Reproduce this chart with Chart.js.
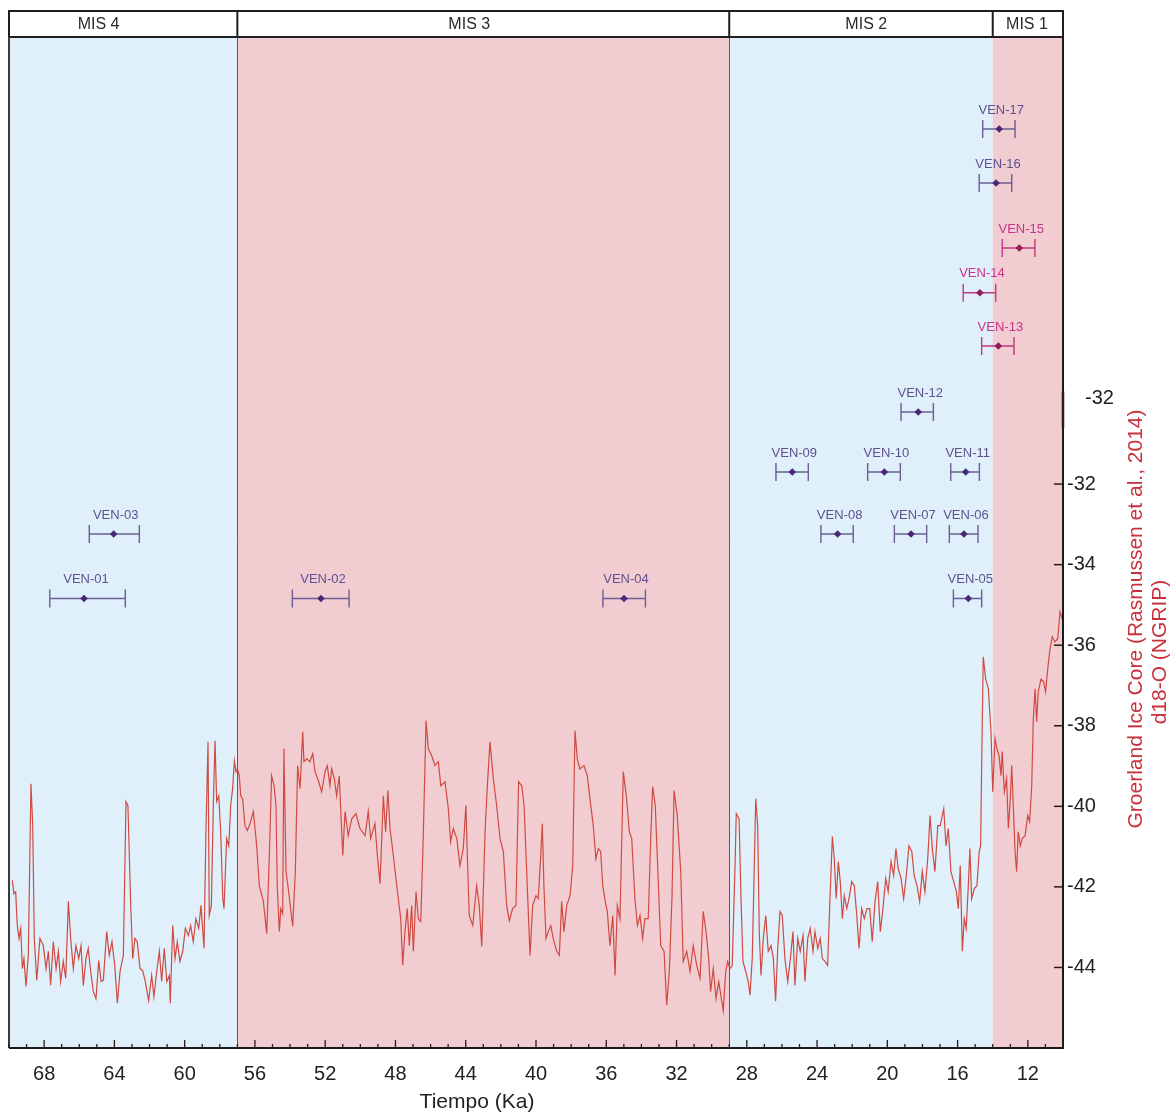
<!DOCTYPE html>
<html lang="es">
<head>
<meta charset="utf-8">
<title>NGRIP d18-O y edades VEN</title>
<script src="https://cdn.jsdelivr.net/npm/chart.js@4.4.1/dist/chart.umd.min.js"></script>
<style>
  html, body { margin: 0; padding: 0; background: #fff; }
  #contenedor { width: 1174px; height: 1113px; }
</style>
</head>
<body>
<div id="contenedor"><canvas id="grafico"></canvas></div>
<script>
// Registro NGRIP (Rasmussen et al., 2014): edad en ka y d18-O
const tiempoKa = [
  69.81, 69.72, 69.62, 69.53, 69.43, 69.33, 69.24, 69.15, 69.03, 68.90,
  68.75, 68.65, 68.56, 68.42, 68.24, 68.05, 67.89, 67.76, 67.63, 67.48,
  67.32, 67.19, 67.06, 66.91, 66.77, 66.62, 66.49, 66.34, 66.19, 66.03,
  65.90, 65.77, 65.62, 65.49, 65.35, 65.20, 65.05, 64.89, 64.76, 64.63,
  64.44, 64.29, 64.14, 63.98, 63.83, 63.68, 63.49, 63.34, 63.23, 63.07,
  62.96, 62.83, 62.70, 62.54, 62.39, 62.24, 62.05, 61.88, 61.75, 61.59,
  61.44, 61.31, 61.16, 61.02, 60.87, 60.82, 60.68, 60.55, 60.42, 60.27,
  60.11, 59.96, 59.79, 59.66, 59.51, 59.36, 59.20, 59.07, 58.90, 58.79,
  58.67, 58.60, 58.48, 58.37, 58.27, 58.18, 58.06, 57.95, 57.83, 57.76,
  57.61, 57.49, 57.38, 57.27, 57.17, 57.08, 57.00, 56.89, 56.81, 56.70,
  56.57, 56.43, 56.28, 56.09, 55.90, 55.75, 55.52, 55.33, 55.18, 55.05,
  54.91, 54.80, 54.73, 54.61, 54.53, 54.42, 54.35, 54.23, 54.08, 53.85,
  53.70, 53.57, 53.43, 53.28, 53.21, 53.05, 52.87, 52.71, 52.58, 52.39,
  52.20, 52.01, 51.88, 51.73, 51.63, 51.48, 51.35, 51.20, 51.00, 50.87,
  50.69, 50.49, 50.25, 50.02, 49.73, 49.55, 49.41, 49.17, 49.03, 48.88,
  48.69, 48.56, 48.43, 48.31, 48.12, 47.93, 47.70, 47.59, 47.46, 47.33,
  47.21, 47.08, 46.98, 46.83, 46.70, 46.56, 46.42, 46.26, 46.13, 45.94,
  45.75, 45.56, 45.42, 45.18, 44.99, 44.86, 44.71, 44.51, 44.33, 44.14,
  43.99, 43.91, 43.80, 43.60, 43.38, 43.23, 43.09, 42.90, 42.77, 42.62,
  42.43, 42.24, 42.05, 41.86, 41.67, 41.52, 41.33, 41.14, 40.99, 40.81,
  40.68, 40.53, 40.34, 40.19, 40.00, 39.87, 39.73, 39.64, 39.55, 39.43,
  39.30, 39.16, 39.02, 38.82, 38.67, 38.54, 38.41, 38.25, 38.06, 37.91,
  37.78, 37.65, 37.50, 37.27, 37.08, 36.93, 36.74, 36.59, 36.45, 36.32,
  36.20, 36.06, 35.94, 35.79, 35.63, 35.50, 35.37, 35.22, 35.03, 34.84,
  34.69, 34.55, 34.37, 34.23, 34.08, 33.93, 33.80, 33.61, 33.47, 33.36,
  33.21, 33.04, 32.90, 32.71, 32.56, 32.41, 32.26, 32.14, 31.96, 31.76,
  31.62, 31.42, 31.23, 31.05, 30.85, 30.66, 30.48, 30.32, 30.17, 30.06,
  29.91, 29.75, 29.60, 29.45, 29.34, 29.20, 29.09, 28.96, 28.83, 28.67,
  28.60, 28.44, 28.33, 28.22, 28.06, 27.92, 27.82, 27.69, 27.49, 27.38,
  27.29, 27.19, 27.06, 26.92, 26.78, 26.62, 26.49, 26.36, 26.24, 26.11,
  25.98, 25.83, 25.67, 25.52, 25.37, 25.26, 25.10, 24.96, 24.80, 24.69,
  24.53, 24.39, 24.23, 24.12, 23.96, 23.82, 23.70, 23.55, 23.40, 23.28,
  23.13, 23.02, 22.91, 22.79, 22.68, 22.56, 22.45, 22.31, 22.18, 22.03,
  21.88, 21.74, 21.61, 21.46, 21.31, 21.16, 21.00, 20.86, 20.70, 20.55,
  20.40, 20.25, 20.09, 19.95, 19.79, 19.64, 19.51, 19.38, 19.22, 19.07,
  18.92, 18.77, 18.61, 18.47, 18.31, 18.16, 18.01, 17.86, 17.70, 17.57,
  17.44, 17.29, 17.13, 16.99, 16.79, 16.66, 16.53, 16.38, 16.22, 16.07,
  15.96, 15.85, 15.73, 15.62, 15.51, 15.39, 15.30, 15.20, 15.05, 14.90,
  14.77, 14.69, 14.63, 14.54, 14.40, 14.25, 14.10, 14.00, 13.87, 13.76,
  13.64, 13.53, 13.46, 13.34, 13.21, 13.11, 13.00, 12.92, 12.83, 12.73,
  12.64, 12.55, 12.43, 12.32, 12.16, 12.01, 11.90, 11.78, 11.69, 11.59,
  11.50, 11.41, 11.25, 11.10, 10.99, 10.87, 10.74, 10.61, 10.46, 10.30,
  10.17, 10.04
];
const d18O = [
  -41.84, -42.17, -42.12, -42.95, -43.28, -43.03, -44.03, -43.78, -44.47, -43.70,
  -39.44, -40.47, -43.28, -44.32, -43.28, -43.45, -44.03, -43.60, -44.44, -43.36,
  -44.03, -43.60, -44.35, -43.85, -44.27, -42.36, -43.28, -44.03, -43.46, -43.78,
  -43.46, -44.45, -43.78, -43.53, -44.10, -44.60, -44.77, -43.83, -44.35, -44.32,
  -43.11, -43.70, -43.36, -43.95, -44.89, -44.10, -43.70, -39.88, -39.98, -42.46,
  -43.78, -43.28, -43.36, -44.03, -44.08, -44.35, -44.82, -44.20, -44.72, -44.10,
  -43.60, -44.35, -43.53, -44.35, -44.20, -44.89, -42.96, -43.78, -43.36, -43.85,
  -43.60, -43.03, -43.21, -42.96, -43.36, -42.79, -43.03, -42.46, -43.53, -40.63,
  -38.40, -42.71, -42.46, -39.98, -38.37, -39.88, -39.74, -40.63, -42.29, -42.54,
  -40.80, -40.98, -39.98, -39.56, -38.87, -39.14, -39.07, -39.24, -39.74, -39.81,
  -40.48, -40.60, -40.43, -40.13, -40.98, -41.97, -42.36, -43.16, -41.22, -39.24,
  -39.49, -39.98, -41.97, -43.11, -42.54, -42.66, -38.57, -41.62, -42.12, -42.98,
  -41.62, -38.99, -39.56, -38.15, -38.89, -38.82, -38.89, -38.69, -39.14, -39.36,
  -39.64, -39.14, -38.99, -39.49, -39.07, -39.31, -39.74, -39.24, -41.22, -40.13,
  -40.73, -40.31, -40.18, -40.55, -40.73, -40.13, -40.80, -40.43, -41.22, -41.92,
  -39.74, -40.63, -39.61, -40.55, -41.22, -41.96, -42.79, -43.94, -43.11, -42.54,
  -43.46, -42.46, -43.60, -42.12, -42.79, -42.86, -40.80, -37.87, -38.57, -38.74,
  -38.99, -38.89, -39.49, -39.39, -40.06, -40.88, -40.55, -40.80, -41.47, -41.05,
  -39.98, -41.22, -42.71, -42.96, -41.97, -42.46, -43.48, -40.63, -39.49, -38.40,
  -39.31, -39.98, -40.80, -41.12, -42.46, -42.84, -42.54, -42.46, -39.39, -39.49,
  -39.98, -41.62, -43.70, -42.46, -42.22, -42.29, -41.22, -40.43, -41.97, -43.28,
  -43.11, -42.96, -43.28, -43.60, -43.70, -42.36, -43.11, -42.46, -42.22, -41.47,
  -38.12, -38.82, -39.07, -38.99, -39.24, -39.81, -40.48, -41.30, -41.05, -41.12,
  -41.97, -42.36, -42.61, -43.46, -42.71, -44.20, -42.46, -42.79, -39.14, -39.81,
  -40.63, -40.80, -42.29, -42.96, -42.71, -43.28, -42.79, -42.79, -40.80, -39.51,
  -39.98, -41.87, -43.46, -43.60, -44.94, -44.10, -42.29, -39.61, -40.23, -41.62,
  -43.85, -43.60, -44.10, -43.46, -43.95, -44.27, -42.61, -43.11, -43.78, -44.60,
  -44.03, -44.77, -44.35, -44.77, -45.07, -44.10, -43.85, -44.03, -43.95, -41.47,
  -40.18, -40.31, -42.29, -43.85, -44.10, -44.35, -44.69, -43.78, -39.81, -40.48,
  -43.11, -44.20, -43.28, -42.71, -43.60, -43.46, -43.78, -44.84, -43.53, -42.61,
  -42.71, -43.78, -44.35, -43.78, -43.11, -44.45, -43.28, -43.60, -43.21, -44.35,
  -43.28, -43.03, -43.60, -43.11, -43.53, -43.28, -43.78, -43.85, -43.95, -42.46,
  -40.75, -41.30, -42.29, -41.37, -41.87, -42.79, -42.22, -42.54, -42.29, -41.87,
  -41.97, -42.71, -43.53, -42.54, -42.79, -42.54, -42.54, -43.36, -42.36, -41.87,
  -43.11, -42.54, -41.79, -42.12, -41.37, -41.72, -41.05, -41.55, -41.79, -42.29,
  -41.72, -40.98, -41.12, -41.72, -41.97, -42.36, -41.62, -42.12, -41.30, -40.23,
  -41.05, -41.62, -40.48, -40.48, -40.06, -40.98, -40.55, -41.62, -41.87, -42.12,
  -42.54, -41.47, -43.60, -42.79, -43.03, -41.97, -41.05, -42.29, -42.04, -41.97,
  -41.12, -40.98, -38.99, -36.29, -36.84, -37.08, -38.15, -39.64, -38.32, -38.57,
  -38.74, -39.24, -38.64, -39.64, -39.31, -40.55, -39.81, -38.99, -39.98, -41.12,
  -41.62, -40.63, -40.98, -40.80, -40.73, -40.23, -40.38, -39.49, -37.83, -37.08,
  -37.90, -37.16, -36.84, -36.91, -37.16, -36.59, -36.09, -35.79, -35.92, -35.84,
  -35.17, -35.35
];

// Ejes
const tiempoTicks = [68, 64, 60, 56, 52, 48, 44, 40, 36, 32, 28, 24, 20, 16, 12];
const d18OTicks = [-32, -34, -36, -38, -40, -42, -44];

// Estadios isotópicos marinos
const misNombres = ['MIS 4', 'MIS 3', 'MIS 2', 'MIS 1'];
const misNumero = [4, 3, 2, 1];
const misLimites = [70, 57, 29, 14, 10];
const misEtiquetaKa = [64.9, 43.8, 21.2, 12.05];

// Edades VEN (ka) con su intervalo y la fila donde se dibujan
const venNombres = ['VEN-01', 'VEN-02', 'VEN-03', 'VEN-04', 'VEN-05', 'VEN-06', 'VEN-07', 'VEN-08', 'VEN-09',
  'VEN-10', 'VEN-11', 'VEN-12', 'VEN-13', 'VEN-14', 'VEN-15', 'VEN-16', 'VEN-17'];
const venEdad = [65.73, 52.24, 64.04, 34.99, 15.39, 15.64, 18.65, 22.83, 25.41,
  20.17, 15.54, 18.24, 13.68, 14.73, 12.49, 13.81, 13.63];
const venEdadMax = [67.68, 53.87, 65.43, 36.19, 16.24, 16.47, 19.60, 23.78, 26.34,
  21.12, 16.39, 19.22, 14.63, 15.68, 13.46, 14.77, 14.57];
const venEdadMin = [63.38, 50.64, 62.58, 33.77, 14.63, 14.84, 17.76, 21.94, 24.50,
  19.26, 14.76, 17.38, 12.79, 13.83, 11.60, 12.92, 12.73];
const venFila = [44.46, 44.46, 50.84, 44.46, 44.46, 50.84, 50.84, 50.84, 56.97,
  56.97, 56.97, 62.91, 69.44, 74.71, 79.13, 85.56, 90.90];

const familia = '"Liberation Sans", Arial, sans-serif';
const azulFrio = '#e0f0fb';
const rosaCalido = '#f1cdd2';
const venRosas = ['VEN-13', 'VEN-14', 'VEN-15']; // se dibujan en magenta

function esRosa(i) {
  return venRosas.includes(venNombres[i]);
}

const pluginMIS = {
  id: 'pluginMIS',
  beforeDatasetsDraw(chart) {
    const { ctx, chartArea: a, scales: { x } } = chart;
    ctx.save();
    misNombres.forEach((n, i) => {
      const x0 = x.getPixelForValue(misLimites[i]);
      const x1 = x.getPixelForValue(misLimites[i + 1]);
      ctx.fillStyle = misNumero[i] % 2 === 0 ? azulFrio : rosaCalido;
      ctx.fillRect(x0, a.top, x1 - x0, a.bottom - a.top);
    });
    // lineas finas entre MIS 4/3 y MIS 3/2
    ctx.strokeStyle = '#5a5a5a';
    ctx.lineWidth = 1;
    misLimites.slice(1, 3).forEach(v => {
      const px = Math.round(x.getPixelForValue(v)) + 0.5;
      ctx.beginPath();
      ctx.moveTo(px, a.top);
      ctx.lineTo(px, a.bottom);
      ctx.stroke();
    });
    ctx.restore();
  },
  beforeDatasetDraw(chart, args) {
    if (args.index !== 1) return;
    // barras de error de las edades VEN
    const { ctx, scales: { x, yFila } } = chart;
    ctx.save();
    ctx.lineWidth = 1.4;
    venNombres.forEach((n, i) => {
      const py = yFila.getPixelForValue(venFila[i]);
      const x0 = x.getPixelForValue(venEdadMax[i]);
      const x1 = x.getPixelForValue(venEdadMin[i]);
      ctx.strokeStyle = esRosa(i) ? '#c0397f' : '#6b5d95';
      ctx.beginPath();
      ctx.moveTo(x0, py);
      ctx.lineTo(x1, py);
      ctx.moveTo(x0, py - 9);
      ctx.lineTo(x0, py + 9);
      ctx.moveTo(x1, py - 9);
      ctx.lineTo(x1, py + 9);
      ctx.stroke();
    });
    ctx.restore();
  },
  afterDatasetsDraw(chart) {
    const { ctx, scales: { x, yFila } } = chart;
    ctx.save();
    ctx.font = '13px ' + familia;
    ctx.textAlign = 'center';
    ctx.textBaseline = 'middle';
    venNombres.forEach((n, i) => {
      ctx.fillStyle = esRosa(i) ? '#c8338a' : '#5f5190';
      ctx.fillText(n, x.getPixelForValue(venEdad[i]) + 2, yFila.getPixelForValue(venFila[i]) - 19);
    });
    ctx.restore();
  },
  afterDraw(chart) {
    const { ctx, chartArea: a, scales: { x, y } } = chart;
    ctx.save();

    // cabecera MIS
    const top = 11;
    ctx.fillStyle = '#fff';
    ctx.fillRect(a.left, top, a.right - a.left, a.top - top);
    ctx.strokeStyle = '#1e1e1e';
    ctx.lineWidth = 2;
    ctx.strokeRect(a.left, top, a.right - a.left, a.top - top);
    misLimites.slice(1, -1).forEach(v => {
      const px = x.getPixelForValue(v);
      ctx.beginPath();
      ctx.moveTo(px, top);
      ctx.lineTo(px, a.top);
      ctx.stroke();
    });
    ctx.fillStyle = '#2a2a2a';
    ctx.font = '16px ' + familia;
    ctx.textAlign = 'center';
    ctx.textBaseline = 'middle';
    misNombres.forEach((n, i) => {
      ctx.fillText(n, x.getPixelForValue(misEtiquetaKa[i]), (top + a.top) / 2 + 1);
    });

    // bordes del area
    ctx.strokeStyle = '#3a3a3a';
    ctx.lineWidth = 2;
    ctx.beginPath();
    ctx.moveTo(a.left, a.top);
    ctx.lineTo(a.left, a.bottom);
    ctx.stroke();
    ctx.strokeStyle = '#1a1a1a';
    ctx.beginPath();
    ctx.moveTo(a.right, a.top);
    ctx.lineTo(a.right, a.bottom);
    ctx.moveTo(a.left, a.bottom);
    ctx.lineTo(a.right + 1, a.bottom);
    ctx.stroke();

    // marcas del eje de tiempo (cada 1 ka, largas cada 4 ka)
    ctx.lineWidth = 1.3;
    ctx.strokeStyle = '#2a1a1a';
    for (let v = Math.ceil(x.min); v <= x.max; v++) {
      const px = x.getPixelForValue(v);
      const largo = v % 4 === 0 ? 8 : 4;
      ctx.beginPath();
      ctx.moveTo(px, a.bottom);
      ctx.lineTo(px, a.bottom - largo);
      ctx.stroke();
    }

    // marcas del eje d18-O hacia dentro
    ctx.lineWidth = 1.5;
    d18OTicks.forEach(v => {
      const py = y.getPixelForValue(v);
      ctx.beginPath();
      ctx.moveTo(a.right - 9, py);
      ctx.lineTo(a.right, py);
      ctx.stroke();
    });
    // tramo grueso y rotulo suelto que aparece en el original
    ctx.lineWidth = 2.5;
    ctx.beginPath();
    ctx.moveTo(a.right, y.getPixelForValue(-29.7));
    ctx.lineTo(a.right, y.getPixelForValue(-30.6));
    ctx.stroke();
    ctx.fillStyle = '#222';
    ctx.font = '20px ' + familia;
    ctx.textAlign = 'left';
    ctx.fillText('-32', a.right + 22, y.getPixelForValue(-29.87));

    // titulo eje x
    ctx.textAlign = 'center';
    ctx.font = '21px ' + familia;
    ctx.fillText('Tiempo (Ka)', 477, 1102);

    // titulo eje y (girado)
    ctx.fillStyle = '#c8323c';
    ctx.translate(1136, 619);
    ctx.rotate(-Math.PI / 2);
    ctx.fillText('Groerland Ice Core (Rasmussen et al., 2014)', 0, 0);
    ctx.rotate(Math.PI / 2);
    ctx.translate(24, 33);
    ctx.rotate(-Math.PI / 2);
    ctx.fillText('d18-O (NGRIP)', 0, 0);
    ctx.restore();
  }
};

Chart.defaults.font.family = familia;

new Chart(document.getElementById('grafico'), {
  type: 'line',
  data: {
    datasets: [
      {
        label: 'NGRIP d18-O',
        data: tiempoKa.map((t, i) => ({ x: t, y: d18O[i] })),
        borderColor: '#d04a42',
        borderWidth: 1.2,
        pointRadius: 0,
        tension: 0,
        fill: false,
        yAxisID: 'y'
      },
      {
        type: 'scatter',
        label: 'Edades VEN',
        data: venEdad.map((t, i) => ({ x: t, y: venFila[i] })),
        yAxisID: 'yFila',
        pointStyle: 'rectRot',
        pointRadius: 3.8,
        borderWidth: 0,
        backgroundColor: venNombres.map((n, i) => esRosa(i) ? '#8c1c5c' : '#4a2878')
      }
    ]
  },
  options: {
    responsive: true,
    maintainAspectRatio: false,
    animation: false,
    layout: { padding: { left: 9, top: 37, right: 0, bottom: 0 } },
    plugins: {
      legend: { display: false },
      tooltip: { enabled: false }
    },
    scales: {
      x: {
        type: 'linear',
        position: 'bottom',
        reverse: true,
        min: 10,
        max: 70,
        grid: { display: false, drawTicks: false },
        border: { display: false },
        ticks: { padding: 14, color: '#222', font: { size: 20 }, maxRotation: 0, autoSkip: false },
        afterBuildTicks: s => { s.ticks = tiempoTicks.map(v => ({ value: v })); },
        afterFit: s => { s.height = 65; }
      },
      y: {
        type: 'linear',
        position: 'right',
        min: -46,
        max: -20.9,
        grid: { display: false, drawTicks: false },
        border: { display: false },
        ticks: { padding: 4, color: '#222', font: { size: 20 }, autoSkip: false },
        afterBuildTicks: s => { s.ticks = d18OTicks.map(v => ({ value: v })); },
        afterFit: s => { s.width = 111; }
      },
      yFila: {
        type: 'linear',
        display: false,
        min: 0,
        max: 100
      }
    }
  },
  plugins: [pluginMIS]
});
</script>
</body>
</html>
